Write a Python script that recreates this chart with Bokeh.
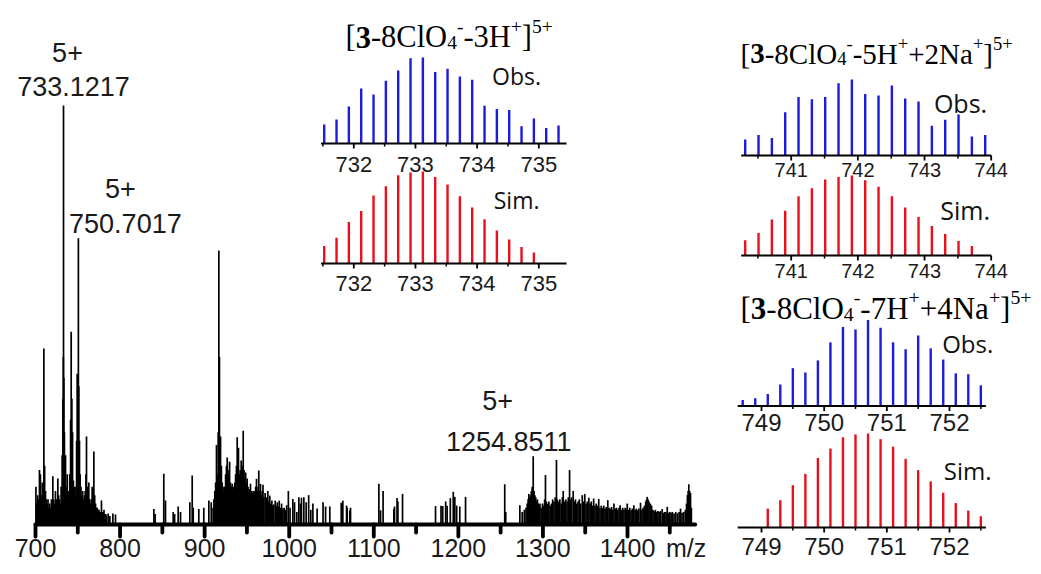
from bokeh.plotting import figure
from bokeh.models import Range1d, ColumnDataSource
from bokeh.core.properties import value
from bokeh.embed import file_html
from bokeh.resources import INLINE

W, H = 1041, 574

# ---------------- full ESI-MS spectrum (m/z, relative intensity %) ----------------
main_mz = [
    700.5, 701.5, 702.5, 703.5, 704.7, 705.8, 706.8, 708.0, 709.9, 710.8, 711.8, 712.8,
    713.8, 714.8, 715.8, 716.8, 717.8, 718.8, 720.5, 721.5, 722.5, 723.6, 724.6, 725.5,
    726.4, 727.4, 728.4, 729.3, 730.3, 731.5, 732.4, 732.9, 733.1217, 733.5, 734.2, 735.5,
    736.5, 737.5, 738.5, 739.5, 740.5, 741.5, 742.2, 743.0, 743.8, 744.8, 745.8, 746.8,
    747.8, 748.6, 749.3, 750.1, 750.7017, 751.2, 752.0, 752.8, 753.8, 754.8, 755.8, 756.8,
    757.8, 758.8, 759.7, 760.3, 761.2, 762.2, 763.0, 764.0, 765.0, 766.0, 767.0, 768.0,
    769.0, 770.0, 771.0, 772.0, 773.0, 774.0, 775.0, 776.0, 777.0, 778.0, 779.0, 780.0,
    781.0, 782.0, 783.0, 784.0, 786.0, 788.0, 791.5, 794.6,
    840.0, 841.5, 851.7, 853.7, 862.8, 864.5, 868.7, 871.5, 882.5, 885.3, 886.5, 893.1,
    899.0, 905.0, 907.8, 910.0,
    911.0, 912.0, 913.0, 914.0, 915.0, 916.0, 916.8, 917.5, 918.8, 919.8, 920.8, 921.8,
    922.8, 923.8, 924.8, 925.8, 926.7, 927.6, 928.5, 929.5, 930.5, 931.5, 932.6, 933.6,
    934.6, 935.6, 936.6, 937.6, 938.5, 939.3, 940.0, 941.0, 942.0, 943.2, 944.4, 945.6,
    946.6, 947.6, 948.5, 949.4, 950.3, 951.3, 952.3, 953.3, 954.2, 955.2, 956.2, 957.3,
    958.3, 959.3, 960.3, 961.3, 962.3, 963.2, 964.0, 965.0, 966.0, 967.0, 968.0, 969.0,
    970.0, 971.5, 972.5, 973.5, 974.7, 975.8, 977.0, 978.2, 979.5, 980.6, 981.8, 983.5,
    984.7, 986.0, 987.0, 988.2, 989.5, 991.0, 992.5, 994.0, 995.5, 997.0, 999.0, 1001.0,
    1004.3, 1006.3, 1009.0, 1011.4, 1013.4, 1014.5, 1017.3, 1020.0, 1023.0, 1025.5, 1028.0,
    1033.0, 1040.0, 1043.0, 1048.0,
    1061.5, 1063.4, 1067.8, 1068.6, 1071.7, 1072.5, 1106.0, 1108.0, 1111.0, 1123.7, 1124.5,
    1127.5, 1128.5, 1134.0, 1173.0, 1179.5, 1181.5, 1185.0, 1186.7, 1190.5, 1194.0, 1195.8,
    1198.0, 1201.7, 1208.5, 1254.8511, 1256.0, 1272.7,
    1275.5, 1278.0, 1280.0, 1281.4, 1282.5, 1283.3, 1284.3, 1285.3, 1286.3, 1287.3, 1288.5,
    1289.5, 1290.5, 1291.5, 1292.5, 1293.5, 1294.5, 1295.5, 1296.5, 1298.0, 1299.5, 1301.0,
    1302.0, 1303.0, 1304.0, 1305.5, 1307.0, 1308.5, 1310.0, 1311.5, 1313.0, 1314.5, 1316.0,
    1317.0, 1318.5, 1320.0, 1321.5, 1323.0, 1324.0, 1325.5, 1327.0, 1328.5, 1330.0, 1331.5,
    1332.8, 1334.0, 1335.8, 1337.0, 1338.5, 1340.0, 1341.5, 1343.0, 1344.5, 1346.5, 1348.0,
    1349.5, 1351.0, 1352.5, 1354.3, 1355.8, 1357.2, 1358.6, 1360.0, 1361.5, 1363.0, 1364.5,
    1366.0, 1367.5, 1369.0, 1370.5, 1372.0, 1373.5, 1375.0, 1376.7, 1378.2, 1379.7, 1381.2,
    1382.7, 1384.0, 1385.5, 1387.0, 1388.5, 1390.0, 1391.3, 1392.8, 1394.3, 1395.8, 1397.3,
    1398.5, 1399.7, 1401.2, 1402.7, 1404.2, 1405.7, 1407.5, 1409.0, 1410.5, 1412.0, 1413.5,
    1415.4, 1417.0, 1418.5, 1420.0, 1421.5, 1422.5, 1423.3, 1424.3, 1425.5, 1427.0, 1428.5,
    1430.0, 1431.5, 1433.0, 1434.5, 1436.0, 1437.5, 1439.0, 1441.0, 1442.5, 1444.0, 1445.5,
    1447.0, 1448.5, 1450.0, 1451.5, 1453.0, 1455.0, 1457.0, 1459.0, 1461.0, 1462.7, 1464.5,
    1466.5, 1468.5, 1469.8, 1470.8, 1471.7, 1472.5, 1473.5, 1474.5, 1475.5,
]
main_int = [
    9, 5, 7, 6, 13, 12, 7, 10, 42, 14, 8, 6,
    5, 6, 4, 5, 4, 6, 11.5, 6, 5, 8, 6, 5,
    11, 7, 6, 5, 9, 16.5, 30, 40, 100, 35, 22, 16.5,
    9, 12, 7, 8, 12, 25, 46, 30, 22, 10.5, 9, 7,
    9, 20, 36, 30, 68.3, 33, 20, 12, 9, 7, 8, 6,
    7, 8, 12, 21, 9, 7, 10, 6, 5, 6, 9, 8,
    17.4, 7, 5, 4, 4, 3.5, 3.5, 3, 3, 5.7, 3, 2.8,
    3.5, 2.5, 2.5, 2.2, 2.6, 2.0, 2.6, 2.4,
    3.7, 2.5, 12.1, 5.7, 3, 2.5, 4.3, 3, 5.3, 11.7, 4, 3.7,
    4, 5.7, 5.3, 4,
    6, 8, 10, 19, 12, 22, 65.4, 40, 21, 14, 10, 9,
    8, 9, 12, 14, 16, 13, 12, 15, 10, 9, 9.7, 8,
    9, 10, 12, 14, 20.8, 15, 18.3, 12, 13, 15.3, 14, 22.4,
    13, 11, 12.4, 10, 11, 9, 8, 8.5, 9.7, 8, 7.5, 8,
    7, 8, 9, 10.9, 8, 9, 12.9, 8, 9.7, 7, 8, 9.5,
    6.5, 7.5, 6, 6.5, 8, 5.5, 6.9, 5, 5.7, 4.5, 4.8, 5.7,
    4.5, 5.3, 4.2, 5.7, 4, 5, 3.8, 4, 3.5, 4.6, 8, 4,
    6.1, 5.3, 3, 6.5, 5, 6.4, 6.5, 5.3, 7, 3.5, 5,
    3.8, 5.3, 4.3, 4.3,
    5.2, 5.7, 4.5, 4.0, 3.4, 4, 9.7, 3.4, 8.0, 3.7, 4.3,
    6.3, 5.5, 7.3, 4.4, 4.5, 4.4, 5.5, 4.5, 6.3, 7.8, 6.6,
    4.5, 4.3, 6.6, 9.6, 3, 4.6,
    3, 3.5, 4, 5, 6, 7.3, 6.5, 7, 8, 9, 16.3,
    8, 7, 6.5, 5.5, 6, 5, 4.5, 5, 4, 5, 4.5,
    6, 11.8, 5.5, 5, 5.5, 4.5, 5, 6, 5.5, 6.5, 15.4,
    6, 5.5, 6, 5, 6.5, 8, 5.5, 6, 5.5, 6.5, 13,
    6, 6.5, 8, 5.5, 6, 5, 5.5, 6, 5, 7, 5.5,
    7.3, 5, 5.5, 6.4, 5, 5.5, 4.5, 6.2, 4.5, 5, 4.5,
    6.1, 4, 4.5, 4, 4.5, 3.8, 4.2, 5.8, 4, 3.8, 4.2,
    3.5, 5, 3.8, 4, 3.5, 4, 4.6, 3.5, 4, 3.5, 4,
    3.6, 5, 3.5, 4, 3.4, 3.8, 4.6, 3.5, 3.8, 3.4, 3.8,
    5.2, 3.6, 4, 4.5, 5.5, 6, 6.6, 6, 5.5, 5, 4.5,
    3.5, 3.2, 3.5, 3, 3.2, 3, 3.2, 3.7, 2.8, 3, 3,
    4.2, 2.8, 3, 2.8, 3, 2.6, 3, 2.7, 3, 3.8, 2.8,
    3, 3.5, 5, 7, 8, 9.6, 8, 7.5, 4,
]

main_major_ticks = [700, 800, 900, 1000, 1100, 1200, 1300, 1400]
main_minor_ticks = [750, 850, 950, 1050, 1150, 1250, 1350, 1450]
main_axis_span = (700, 1480)

# labelled 5+ ions: (m/z, intensity)
labelled_mz = [733.1217, 750.7017, 1254.8511]
labelled_int = [100, 68.3, 9.6]

# ---------------- isotope patterns (relative intensity %) ----------------
iso1_obs_mz = [731.52, 731.72, 731.92, 732.12, 732.32, 732.52, 732.72, 732.92, 733.12, 733.32,
               733.52, 733.72, 733.92, 734.12, 734.32, 734.52, 734.72, 734.92, 735.12, 735.32]
iso1_obs_int = [22, 28, 43, 64, 57, 73, 85, 99, 100, 83, 87, 78, 74, 44, 40, 39, 20, 29, 18, 21]
iso1_sim_mz = [731.52, 731.72, 731.92, 732.12, 732.32, 732.52, 732.72, 732.92, 733.12, 733.32,
               733.52, 733.72, 733.92, 734.12, 734.32, 734.52, 734.72, 734.92]
iso1_sim_int = [19, 28, 45, 57, 74, 84, 96, 99, 100, 94, 86, 73, 61, 48, 36, 26, 18, 12]
iso1_ticks = [732, 733, 734, 735]

iso2_obs_mz = [740.31, 740.51, 740.71, 740.91, 741.11, 741.31, 741.51, 741.71, 741.91, 742.11,
               742.31, 742.51, 742.71, 742.91, 743.11, 743.31, 743.51, 743.71, 743.91]
iso2_obs_int = [21, 27, 23, 57, 77, 74, 77, 95, 100, 81, 79, 92, 75, 71, 39, 47, 54, 25, 27]
iso2_sim_mz = [740.31, 740.51, 740.71, 740.91, 741.11, 741.31, 741.51, 741.71, 741.91, 742.11,
               742.31, 742.51, 742.71, 742.91, 743.11, 743.31, 743.51, 743.71]
iso2_sim_int = [19, 28, 45, 56, 74, 84, 95, 98, 100, 94, 86, 74, 60, 48, 37, 27, 18, 12]
iso2_ticks = [741, 742, 743, 744]

iso3_obs_mz = [748.70, 748.90, 749.10, 749.30, 749.50, 749.70, 749.90, 750.10, 750.30, 750.50,
               750.70, 750.90, 751.10, 751.30, 751.50, 751.70, 751.90, 752.10, 752.30, 752.50]
iso3_obs_int = [7, 9, 14, 25, 44, 39, 53, 74, 92, 89, 100, 91, 74, 66, 82, 67, 54, 38, 37, 24]
iso3_sim_mz = [749.10, 749.30, 749.50, 749.70, 749.90, 750.10, 750.30, 750.50, 750.70, 750.90,
               751.10, 751.30, 751.50, 751.70, 751.90, 752.10, 752.30, 752.50]
iso3_sim_int = [20, 29, 45, 57, 74, 84, 96, 99, 100, 94, 86, 73, 61, 49, 37, 26, 18, 12]
iso3_ticks = [749, 750, 751, 752]

OBS_COLOR = "#1c1cdc"
SIM_COLOR = "#e8101e"
SANS = "Liberation Sans"
SERIF = "Liberation Serif"
LABEL_SANS = "Open Sans"


def x_range_for(v0, px0, v1, px1):
    """Range over the whole canvas width that puts v0 at px0 and v1 at px1."""
    k = (px1 - px0) / (v1 - v0)
    start = v0 - px0 / k
    return Range1d(start, start + W / k), k


def y_range_for(py_base, px_per_100):
    """Range over the whole canvas height with 0 at py_base (from top) and 100 px_per_100 above."""
    k = px_per_100 / 100.0
    start = -(H - py_base) / k
    return Range1d(start, start + H / k), k


main_xr, main_kx = x_range_for(700, 35.0, 1400, 627.0)
main_yr, main_ky = y_range_for(524.0, 419.0)

p = figure(width=W, height=H, x_range=main_xr, y_range=main_yr,
           output_backend="svg", toolbar_location=None, min_border=0,
           x_axis_type=None, y_axis_type=None)
p.outline_line_color = None
p.background_fill_color = "white"
p.border_fill_color = "white"

# ---------------- main spectrum ----------------
p.segment(x0=main_mz, y0=[0] * len(main_mz), x1=main_mz, y1=main_int,
          line_color="black", line_width=1.7)

p.segment(x0=[main_axis_span[0]], y0=[0], x1=[main_axis_span[1]], y1=[0],
          line_color="black", line_width=4, line_cap="round")
major_len = 12 / main_ky
minor_len = 8 / main_ky
p.segment(x0=main_major_ticks, y0=[0] * 8, x1=main_major_ticks, y1=[-major_len] * 8,
          line_color="black", line_width=3.8, line_cap="round")
p.segment(x0=main_minor_ticks, y0=[0] * 8, x1=main_minor_ticks, y1=[-minor_len] * 8,
          line_color="black", line_width=3.8, line_cap="round")
p.text(x=main_major_ticks, y=[0] * 8, text=[str(t) for t in main_major_ticks],
       y_offset=23, text_align="center", text_baseline="middle",
       text_font=value(SANS), text_font_size="25px", text_color="#1a1a1a")
p.text(x=[main_axis_span[1]], y=[0], text=["m/z"], x_offset=-9, y_offset=23,
       text_align="center", text_baseline="middle",
       text_font=value(SANS), text_font_size="25px", text_color="#1a1a1a")

# charge state and m/z annotations, placed relative to their peaks
charge_dx = [4, 42, -7]
charge_dy = [-53, -50, -84]
mz_dx = [10, 47, 4]
mz_dy = [-19, -15, -43]
p.text(x=labelled_mz, y=labelled_int, text=["5+"] * 3, x_offset=charge_dx, y_offset=charge_dy,
       text_align="center", text_baseline="middle",
       text_font=value(SANS), text_font_size="27px", text_color="#1a1a1a")
p.text(x=labelled_mz, y=labelled_int, text=[f"{m:.4f}" for m in labelled_mz],
       x_offset=mz_dx, y_offset=mz_dy, text_align="center", text_baseline="middle",
       text_font=value(SANS), text_font_size="27px", text_color="#1a1a1a")

# ---------------- isotope pattern insets ----------------
TIMES_W = {'[': 333, ']': 333, '3': 500, '-': 333, '8': 500, 'C': 667, 'l': 278, 'O': 722,
           '4': 500, 'H': 722, '+': 564, '5': 500, '2': 500, 'N': 722, 'a': 444, '7': 500}


def formula(x, y, xname, yname, pieces, size):
    xs, ys, txt, xo, yo, fs, st = [], [], [], [], [], [], []
    cur = 0.0
    for t, kind in pieces:
        f = size * 0.64 if kind in ("sub", "sup") else size
        off = {"sub": 0.18 * size, "sup": -0.36 * size}.get(kind, 0.0)
        xs.append(x); ys.append(y); txt.append(t)
        xo.append(cur); yo.append(off); fs.append(f"{f:.1f}px")
        st.append("bold" if kind == "b" else "normal")
        cur += sum(TIMES_W[c] for c in t) / 1000.0 * f
    src = ColumnDataSource(dict(x=xs, y=ys, text=txt, xo=xo, yo=yo, fs=fs, st=st))
    p.text(x="x", y="y", text="text", x_offset="xo", y_offset="yo", text_font_size="fs",
           text_font_style="st", text_font=value(SERIF), text_color="black",
           text_align="left", text_baseline="alphabetic", source=src,
           x_range_name=xname, y_range_name=yname)


def ion_pieces(h_part, na_part):
    pieces = [("[", "n"), ("3", "b"), ("-8ClO", "n"), ("4", "sub"), ("-", "sup"),
              (h_part, "n"), ("+", "sup")]
    if na_part:
        pieces += [(na_part, "n"), ("+", "sup")]
    pieces += [("]", "n"), ("5+", "sup")]
    return pieces


insets = [
    dict(name="i1", xcal=(732, 353.3, 735, 538.3), span=(731.47, 735.45), ticks=iso1_ticks,
         tick_size="22px",
         panels=[dict(mz=iso1_obs_mz, it=iso1_obs_int, color=OBS_COLOR, base=143.0, full=86.0,
                      lab_off=21, tag="Obs.", tag_xy=(734.64, 78.5)),
                 dict(mz=iso1_sim_mz, it=iso1_sim_int, color=SIM_COLOR, base=263.0, full=92.0,
                      lab_off=20, tag="Sim.", tag_xy=(734.64, 68.5))],
         tag_size="23px", title=("-3H", None), title_xy=(731.865, 123.3), title_size=30.5),
    dict(name="i2", xcal=(741, 790.7, 744, 990.7), span=(740.25, 744.0), ticks=iso2_ticks,
         tick_size="20px",
         panels=[dict(mz=iso2_obs_mz, it=iso2_obs_int, color=OBS_COLOR, base=155.0, full=76.0,
                      lab_off=14, tag="Obs.", tag_xy=(743.54, 69.7)),
                 dict(mz=iso2_sim_mz, it=iso2_sim_int, color=SIM_COLOR, base=255.0, full=80.0,
                      lab_off=15, tag="Sim.", tag_xy=(743.61, 57.5))],
         tag_size="25px", title=("-5H", "+2Na"), title_xy=(740.24, 134.2), title_size=29),
    dict(name="i3", xcal=(749, 761.0, 752, 949.0), span=(748.62, 752.58), ticks=iso3_ticks,
         tick_size="24px",
         panels=[dict(mz=iso3_obs_mz, it=iso3_obs_int, color=OBS_COLOR, base=405.5, full=86.0,
                      lab_off=16, tag="Obs.", tag_xy=(752.29, 72.7)),
                 dict(mz=iso3_sim_mz, it=iso3_sim_int, color=SIM_COLOR, base=527.0, full=94.0,
                      lab_off=19, tag="Sim.", tag_xy=(752.29, 60.6))],
         tag_size="24px", title=("-7H", "+4Na"), title_xy=(748.665, 113.4), title_size=31),
]

for ins in insets:
    xr, kx = x_range_for(*ins["xcal"])
    p.extra_x_ranges[ins["name"]] = xr
    t0 = ins["ticks"][0] - 1
    minors = [t0 + 0.5 + i for i in range(len(ins["ticks"]) + 1)
              if ins["span"][0] <= t0 + 0.5 + i <= ins["span"][1]]
    for j, pan in enumerate(ins["panels"]):
        yname = f'{ins["name"]}_{j}'
        yr, ky = y_range_for(pan["base"], pan["full"])
        p.extra_y_ranges[yname] = yr
        kw = dict(x_range_name=ins["name"], y_range_name=yname)
        n = len(pan["mz"])
        p.segment(x0=pan["mz"], y0=[0] * n, x1=pan["mz"], y1=pan["it"],
                  line_color=pan["color"], line_width=2.4, **kw)
        p.segment(x0=[ins["span"][0]], y0=[0], x1=[ins["span"][1]], y1=[0],
                  line_color="black", line_width=2, **kw)
        nt = len(ins["ticks"])
        p.segment(x0=ins["ticks"], y0=[0] * nt, x1=ins["ticks"], y1=[-5 / ky] * nt,
                  line_color="black", line_width=1.8, **kw)
        p.segment(x0=minors, y0=[0] * len(minors), x1=minors, y1=[-3 / ky] * len(minors),
                  line_color="black", line_width=1.5, **kw)
        p.text(x=ins["ticks"], y=[0] * nt, text=[str(t) for t in ins["ticks"]],
               y_offset=pan["lab_off"], text_align="center", text_baseline="middle",
               text_font=value(SANS), text_font_size=ins["tick_size"], text_color="#1a1a1a", **kw)
        p.text(x=[pan["tag_xy"][0]], y=[pan["tag_xy"][1]], text=[pan["tag"]],
               text_align="center", text_baseline="middle",
               text_font=value(LABEL_SANS), text_font_size=ins["tag_size"],
               text_color="#111111", **kw)
    formula(ins["title_xy"][0], ins["title_xy"][1], ins["name"], f'{ins["name"]}_0',
            ion_pieces(*ins["title"]), ins["title_size"])

open("out.html", "w").write(file_html(p, INLINE))
